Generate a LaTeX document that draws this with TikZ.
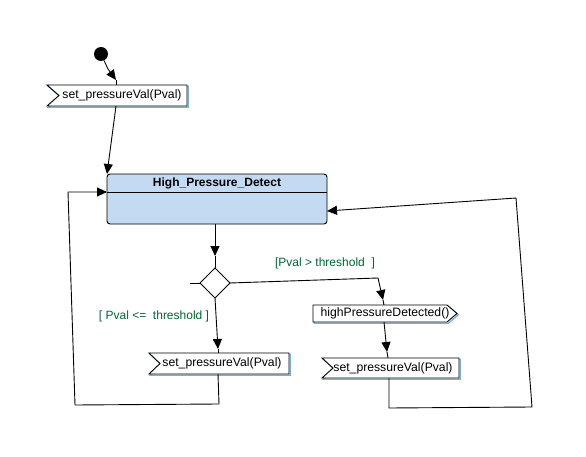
\documentclass[tikz,border=0pt]{standalone}
\usepackage{fontspec}
\setmainfont{Liberation Sans}
\usetikzlibrary{arrows.meta}
\definecolor{boxfill}{RGB}{196,218,242}
\definecolor{edgeblue}{RGB}{120,175,210}
\definecolor{guardgreen}{RGB}{0,102,51}
\tikzset{
  lbl/.style={inner sep=0pt, font=\fontsize{12.2}{14}\selectfont},
  ttl/.style={inner sep=0pt, font=\fontsize{12}{14}\selectfont\bfseries},
  guard/.style={inner sep=0pt, text=guardgreen, font=\fontsize{12}{14}\selectfont},
  conn/.style={draw=black, line width=0.9pt},
  arr/.style={conn, -{Triangle[length=10pt,width=9pt]}},
  shadowedge/.style={draw=edgeblue, line width=1.3pt, shift={(1.3,1.3)}},
  hardedge/.style={draw=black, line width=0.9pt},
}
\begin{document}
\begin{tikzpicture}[x=1pt,y=-1pt]
\useasboundingbox[fill=white] (0,0) rectangle (586,457);

% initial node
\node[circle, fill=black, minimum size=14pt, inner sep=0pt] (init) at (101,54) {};

% receive box 1
\draw[shadowedge] (47,85) -- (187,85) -- (187,106) -- (47,106) -- (59,95.5) -- cycle;
\draw[hardedge, fill=white] (47,85) -- (187,85) -- (187,106) -- (47,106) -- (59,95.5) -- cycle;
\node[lbl] (s1) at (122,95.5) {set\_pressureVal(Pval)};
\coordinate (s1top) at (116,85);
\coordinate (s1bot) at (116,106);

% main state
\draw[hardedge, fill=boxfill, rounded corners=3pt] (107,174) rectangle (327,224);
\draw[hardedge] (107,192) -- (327,192);
\node[ttl] (main) at (217,183.5) {High\_Pressure\_Detect};
\coordinate (maintopL) at (107,174);
\coordinate (mainleft) at (107,192);
\coordinate (mainright) at (327,211);
\coordinate (mainbot) at (215,224);

% decision
\draw[hardedge, fill=white] (215,268) -- (230,283) -- (215,298) -- (200,283) -- cycle;
\coordinate (dtop) at (215,268);
\coordinate (dright) at (230,283);
\coordinate (dbot) at (215,298);
\coordinate (dleft) at (200,283);
\coordinate (stub) at (190,283);
\draw[conn] (stub) -- (dleft);

% receive box 2 (left)
\draw[shadowedge] (149,353) -- (289,353) -- (289,374) -- (149,374) -- (160,363.5) -- cycle;
\draw[hardedge, fill=white] (149,353) -- (289,353) -- (289,374) -- (149,374) -- (160,363.5) -- cycle;
\node[lbl] (s2) at (222,363.5) {set\_pressureVal(Pval)};
\coordinate (s2top) at (218,353);
\coordinate (s2bot) at (218,374);

% send box
\draw[shadowedge] (313,305) -- (447,305) -- (457,313.5) -- (447,322) -- (313,322) -- cycle;
\draw[hardedge, fill=white] (313,305) -- (447,305) -- (457,313.5) -- (447,322) -- (313,322) -- cycle;
\node[lbl] (hp) at (385,313.5) {highPressureDetected()};
\coordinate (hptop) at (384,305);
\coordinate (hpbot) at (384,322);

% receive box 3 (right)
\draw[shadowedge] (322,358) -- (459,358) -- (459,378) -- (322,378) -- (333,368) -- cycle;
\draw[hardedge, fill=white] (322,358) -- (459,358) -- (459,378) -- (322,378) -- (333,368) -- cycle;
\node[lbl] (s3) at (393,368) {set\_pressureVal(Pval)};
\coordinate (s3top) at (388,358);
\coordinate (s3bot) at (389,378);

% connectors
\coordinate (a1) at (108,69);
\coordinate (a1tip) at (116,80);
\draw[arr] (init) -- (a1) -- (a1tip);
\draw[conn] (a1tip) -- (s1top);

\draw[arr] (s1bot) -- (maintopL);

\coordinate (a3tip) at (215,256);
\draw[arr] (mainbot) -- (a3tip);
\draw[conn] (a3tip) -- (dtop);

\coordinate (b1) at (378,278);
\coordinate (b1tip) at (383,300);
\draw[arr] (dright) -- (b1) -- (b1tip);
\draw[conn] (b1tip) -- (hptop);
\node[guard] (g1) at (325,263) {[Pval > threshold\ \ ]};

\coordinate (c1tip) at (218,349);
\draw[arr] (dbot) -- (c1tip);
\draw[conn] (c1tip) -- (s2top);
\node[guard] (g2) at (154,316) {[ Pval <=\ \ threshold ]};

\coordinate (d1tip) at (387,352);
\draw[arr] (hpbot) -- (d1tip);
\draw[conn] (d1tip) -- (s3top);

\coordinate (e1) at (219,404);
\coordinate (e2) at (75,405);
\coordinate (e3) at (68,192);
\draw[arr] (s2bot) -- (e1) -- (e2) -- (e3) -- (mainleft);

\coordinate (f1) at (389,408);
\coordinate (f2) at (532,407);
\coordinate (f3) at (516,198);
\draw[arr] (s3bot) -- (f1) -- (f2) -- (f3) -- (mainright);
\end{tikzpicture}
\end{document}
